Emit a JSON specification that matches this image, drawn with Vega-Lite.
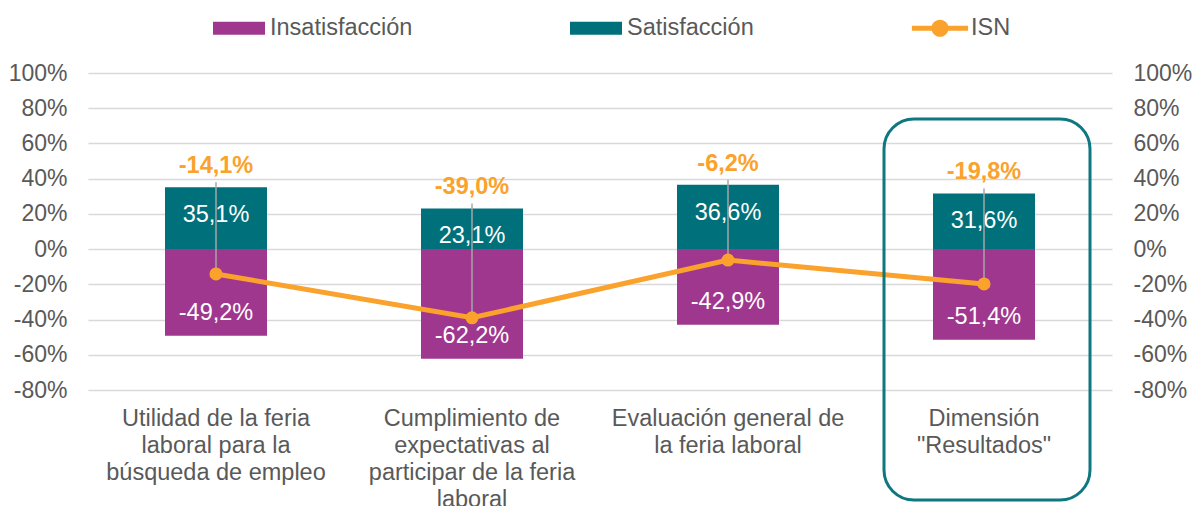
{
  "$schema": "https://vega.github.io/schema/vega-lite/v6.json",
  "width": 1024,
  "height": 317,
  "autosize": {"type": "none"},
  "padding": {"left": 88, "top": 73, "right": 83, "bottom": 116},
  "background": "white",
  "data": {
    "values": [
      {"categoria": "Utilidad de la feria laboral para la búsqueda de empleo", "Insatisfacción": -0.492, "Satisfacción": 0.351, "ISN": -0.141},
      {"categoria": "Cumplimiento de expectativas al participar de la feria laboral", "Insatisfacción": -0.622, "Satisfacción": 0.231, "ISN": -0.390},
      {"categoria": "Evaluación general de la feria laboral", "Insatisfacción": -0.429, "Satisfacción": 0.366, "ISN": -0.062},
      {"categoria": "Dimensión \"Resultados\"", "Insatisfacción": -0.514, "Satisfacción": 0.316, "ISN": -0.198}
    ]
  },
  "config": {
    "locale": {"number": {"decimal": ",", "thousands": ".", "grouping": [3], "currency": ["", " €"], "minus": "-"}},
    "font": "Liberation Sans",
    "view": {"stroke": null},
    "axis": {"labelFont": "Liberation Sans", "labelColor": "#595959", "title": null}
  },
  "encoding": {
    "x": {
      "field": "categoria",
      "type": "nominal",
      "sort": null,
      "scale": {"paddingInner": 0, "paddingOuter": 0},
      "axis": {
        "orient": "bottom",
        "labelAngle": 0,
        "labelFontSize": 23.5,
        "labelLineHeight": 27,
        "labelPadding": 16,
        "labelLimit": 0,
        "domain": false,
        "ticks": false,
        "tickSize": 0,
        "labelExpr": "indexof(datum.value,'Utilidad')==0 ? ['Utilidad de la feria','laboral para la','búsqueda de empleo'] : indexof(datum.value,'Cumplimiento')==0 ? ['Cumplimiento de','expectativas al','participar de la feria','laboral'] : indexof(datum.value,'Evaluación')==0 ? ['Evaluación general de','la feria laboral'] : ['Dimensión','\"Resultados\"']"
      }
    }
  },
  "layer": [
    {
      "transform": [{"fold": ["Insatisfacción", "Satisfacción"], "as": ["serie", "valor"]}],
      "mark": {"type": "bar", "width": 102},
      "encoding": {
        "y": {
          "field": "valor",
          "type": "quantitative",
          "stack": null,
          "scale": {"domain": [-0.8, 1], "nice": false, "zero": false},
          "axis": {
            "orient": "left",
            "values": [-0.8, -0.6, -0.4, -0.2, 0, 0.2, 0.4, 0.6, 0.8, 1],
            "format": ".0%",
            "labelFontSize": 23,
            "labelPadding": 21,
            "ticks": false,
            "tickSize": 0,
            "domain": false,
            "grid": true,
            "gridColor": "#D9D9D9",
            "gridWidth": 1.5
          }
        },
        "color": {
          "field": "serie",
          "type": "nominal",
          "scale": {"domain": ["Insatisfacción", "Satisfacción", "ISN"], "range": ["#A0378F", "#00717B", "#FAA22B"]},
          "legend": {
            "orient": "none",
            "legendX": 125,
            "legendY": -71,
            "direction": "horizontal",
            "title": null,
            "labelFontSize": 23.5,
            "labelColor": "#595959",
            "labelFont": "Liberation Sans",
            "labelOffset": 5,
            "columnPadding": 157,
            "symbolSize": 2704,
            "symbolType": "M-1,-0.25H1V0.25H-1Z",
            "symbolStrokeWidth": 0,
            "encode": {
              "symbols": {
                "update": {
                  "shape": {"signal": "datum.value === 'ISN' ? 'M-1.08,-0.1H1.08V0.1H-1.08Z M-0.33,0A0.33,0.33 0 1,1 0.33,0A0.33,0.33 0 1,1 -0.33,0Z' : 'M-1,-0.25H1V0.25H-1Z'"},
                  "fill": {"scale": "color", "field": "value"},
                  "fillOpacity": {"value": 1},
                  "strokeWidth": {"value": 0}
                }
              }
            }
          }
        }
      }
    },
    {
      "mark": {"type": "text", "color": "white", "fontSize": 23.5, "dy": 28, "baseline": "middle"},
      "encoding": {
        "y": {"field": "Satisfacción", "type": "quantitative", "axis": null},
        "text": {"field": "Satisfacción", "type": "quantitative", "format": ".1%"}
      }
    },
    {
      "mark": {"type": "text", "color": "white", "fontSize": 23.5, "dy": -23, "baseline": "middle"},
      "encoding": {
        "y": {"field": "Insatisfacción", "type": "quantitative", "axis": null},
        "text": {"field": "Insatisfacción", "type": "quantitative", "format": ".1%"}
      }
    },
    {
      "mark": {"type": "rule", "color": "#A6A6A6", "strokeWidth": 1.5, "yOffset": -5},
      "encoding": {
        "y": {"field": "Satisfacción", "type": "quantitative", "axis": null},
        "y2": {"field": "ISN"}
      }
    },
    {
      "mark": {"type": "line", "strokeWidth": 5},
      "encoding": {
        "y": {"field": "ISN", "type": "quantitative", "axis": null},
        "color": {"datum": "ISN", "type": "nominal"}
      }
    },
    {
      "mark": {"type": "point", "filled": true, "size": 170, "opacity": 1, "color": "#FAA22B"},
      "encoding": {
        "y": {"field": "ISN", "type": "quantitative", "axis": null}
      }
    },
    {
      "mark": {"type": "text", "color": "#FAA22B", "fontSize": 23.5, "fontWeight": "bold", "dy": -21, "baseline": "middle"},
      "encoding": {
        "y": {
          "field": "Satisfacción",
          "type": "quantitative",
          "axis": {
            "orient": "right",
            "values": [-0.8, -0.6, -0.4, -0.2, 0, 0.2, 0.4, 0.6, 0.8, 1],
            "format": ".0%",
            "labelFontSize": 23,
            "labelPadding": 21,
            "ticks": false,
            "tickSize": 0,
            "domain": false,
            "grid": false
          }
        },
        "text": {"field": "ISN", "type": "quantitative", "format": ".1%"}
      }
    },
    {
      "data": {"values": [{"categoria": "Dimensión \"Resultados\""}]},
      "mark": {"type": "bar", "width": 206, "fill": null, "fillOpacity": 0, "stroke": "#0E7780", "strokeWidth": 3, "cornerRadius": 30, "xOffset": 3},
      "encoding": {
        "y": {"datum": 0.739, "type": "quantitative", "axis": null},
        "y2": {"datum": -1.425}
      }
    }
  ],
  "resolve": {"axis": {"y": "independent"}}
}
